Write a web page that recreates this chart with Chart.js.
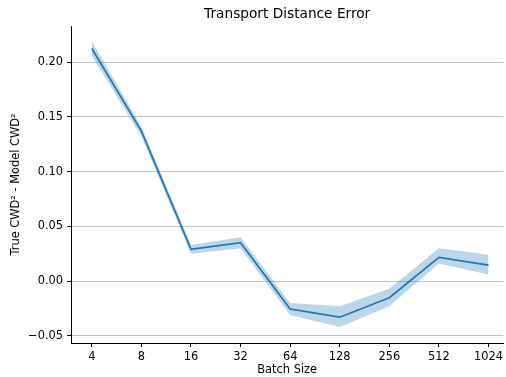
<!DOCTYPE html>
<html>
<head>
    <title>Transport Distance Error</title>
    <script src="https://cdn.jsdelivr.net/npm/chart.js"></script>
    <style>
        html, body { margin: 0; padding: 0; background: #fff; }
        #wrap { width: 506px; height: 377px; }
    </style>
</head>
<body>
    <div id="wrap"><canvas id="chart"></canvas></div>
    <script>
        // Data
        var batchSizes = ['4', '8', '16', '32', '64', '128', '256', '512', '1024'];
        var meanError = [0.2125, 0.137, 0.029, 0.035, -0.0256, -0.033, -0.0152, 0.0216, 0.0146];
        var upperError = [0.219, 0.141, 0.033, 0.040, -0.020, -0.023, -0.007, 0.030, 0.024];
        var lowerError = [0.206, 0.132, 0.025, 0.030, -0.031, -0.042, -0.023, 0.016, 0.006];
        var yTicks = [-0.05, 0, 0.05, 0.10, 0.15, 0.20];
        var chartTitle = 'Transport Distance Error';

        var font = "'DejaVu Sans', sans-serif";
        Chart.defaults.font.family = font;
        Chart.defaults.color = '#000';

        function toPoints(arr) {
            return arr.map(function (v, i) { return { x: i, y: v }; });
        }

        // title centred over the plot area, like matplotlib does
        var axesTitle = {
            id: 'axesTitle',
            afterDraw: function (chart) {
                var c = chart.ctx, a = chart.chartArea;
                c.save();
                c.font = '13.7px ' + font;
                c.fillStyle = '#000';
                c.textAlign = 'center';
                c.textBaseline = 'middle';
                c.fillText(chartTitle, (a.left + a.right) / 2, 14);
                c.restore();
            }
        };

        var ctx = document.getElementById('chart').getContext('2d');
        var chart = new Chart(ctx, {
            type: 'line',
            data: {
                datasets: [{
                    label: 'upper',
                    data: toPoints(upperError),
                    borderWidth: 0,
                    pointRadius: 0,
                    fill: false,
                    tension: 0
                }, {
                    label: 'lower',
                    data: toPoints(lowerError),
                    borderWidth: 0,
                    pointRadius: 0,
                    backgroundColor: 'rgba(31, 119, 180, 0.3)',
                    fill: '-1',
                    tension: 0
                }, {
                    label: 'mean',
                    data: toPoints(meanError),
                    borderColor: '#1f77b4',
                    borderWidth: 1.7,
                    pointRadius: 0,
                    fill: false,
                    tension: 0
                }]
            },
            plugins: [axesTitle],
            options: {
                responsive: true,
                maintainAspectRatio: false,
                animation: false,
                layout: { padding: { left: 0, right: 1, top: 26, bottom: 0 } },
                plugins: {
                    legend: { display: false },
                    tooltip: { enabled: false },
                    title: { display: false }
                },
                scales: {
                    x: {
                        type: 'linear',
                        min: -0.42,
                        max: 8.3,
                        afterBuildTicks: function (scale) {
                            scale.ticks = batchSizes.map(function (_, i) { return { value: i }; });
                        },
                        afterFit: function (scale) { scale.height = 34; },
                        ticks: {
                            autoSkip: false,
                            maxRotation: 0,
                            padding: 3,
                            font: { size: 11.4 },
                            callback: function (v) { return batchSizes[v]; }
                        },
                        grid: {
                            drawOnChartArea: false,
                            drawTicks: true,
                            tickLength: 4,
                            tickColor: '#000'
                        },
                        border: { display: true, color: '#000', width: 1 },
                        title: {
                            display: true,
                            text: 'Batch Size',
                            font: { size: 11.4 },
                            padding: { top: 0, bottom: 0 }
                        }
                    },
                    y: {
                        min: -0.0566,
                        max: 0.233,
                        afterBuildTicks: function (scale) {
                            scale.ticks = yTicks.map(function (v) { return { value: v }; });
                        },
                        afterFit: function (scale) { scale.width = 71; },
                        ticks: {
                            padding: 4,
                            font: { size: 11.4 },
                            callback: function (v) {
                                var s = Math.abs(v).toFixed(2);
                                return v < 0 ? '\u2212' + s : s;
                            }
                        },
                        grid: {
                            color: '#c4c4c4',
                            lineWidth: 1,
                            drawTicks: true,
                            tickLength: 4,
                            tickColor: '#000'
                        },
                        border: { display: true, color: '#000', width: 1 },
                        title: {
                            display: true,
                            text: 'True CWD\u00b2 - Model CWD\u00b2',
                            font: { size: 11.4 },
                            padding: { top: 9, bottom: 0 }
                        }
                    }
                }
            }
        });
    </script>
</body>
</html>
